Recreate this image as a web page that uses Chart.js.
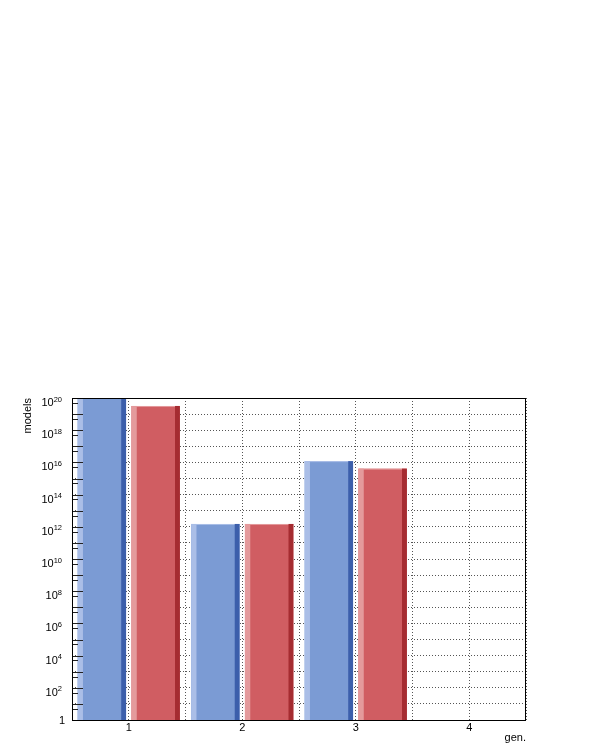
<!DOCTYPE html>
<html>
<head>
<meta charset="utf-8">
<script src="https://cdn.jsdelivr.net/npm/chart.js@4.4.1/dist/chart.umd.min.js"></script>
<style>
html,body{margin:0;padding:0;background:#ffffff;}
#wrap{width:598px;height:747px;}
canvas{display:block;}
</style>
</head>
<body>
<div id="wrap"><canvas id="c" width="598" height="747"></canvas></div>
<script>
// ---- data ----
const categories = ['1', '2', '3', '4'];
const blueValues = [1e20, 1.5e12, 1.2e16, 0];
const redValues  = [3.2e19, 1.5e12, 4.1e15, 0];
const yLabelExponents = [0, 2, 4, 6, 8, 10, 12, 14, 16, 18, 20];
const yDecadeExponents = [0, 1, 2, 3, 4, 5, 6, 7, 8, 9, 10, 11, 12, 13, 14, 15, 16, 17, 18, 19, 20];
const xGridValues = [0.5, 1, 1.5, 2, 2.5, 3, 3.5, 4, 4.5];
const xTitle = 'gen.';
const yTitle = 'models';

// ---- styles ----
const FONT = '"Liberation Sans", Arial, Helvetica, sans-serif';
const blueStyle = { main: '#7b9bd4', light: '#aabee7', dark: '#3c5fab' };
const redStyle  = { main: '#d05d62', light: '#e49a9c', dark: '#a52c31' };

Chart.defaults.font.family = FONT;
Chart.defaults.color = '#000';

const rootStyle = {
  id: 'rootStyle',
  afterDatasetsDraw(chart) {
    const ctx = chart.ctx;
    const area = chart.chartArea;
    chart.data.datasets.forEach((ds, i) => {
      const meta = chart.getDatasetMeta(i);
      meta.data.forEach((bar, j) => {
        const v = ds.data[j];
        if (!(v > 1)) return;
        const p = bar.getProps(['x', 'y', 'base', 'width'], true);
        const l = p.x - p.width / 2;
        const r = p.x + p.width / 2;
        const top = Math.max(p.y, area.top);
        const h = p.base - top;
        ctx.save();
        ctx.beginPath();
        ctx.rect(area.left, area.top, area.right - area.left, area.bottom - area.top);
        ctx.clip();
        ctx.fillStyle = ds.lightColor;
        ctx.fillRect(l, top, p.width * 0.11, h);
        ctx.fillRect(l, top, p.width, 1);
        ctx.fillStyle = ds.darkColor;
        ctx.fillRect(r - p.width * 0.10, top, p.width * 0.10, h);
        ctx.restore();
      });
    });
  },
  afterDraw(chart) {
    const ctx = chart.ctx;
    const a = chart.chartArea;
    const ys = chart.scales.y;
    ctx.save();
    ctx.setLineDash([]);
    // y ticks (inward)
    ctx.strokeStyle = '#222';
    ctx.lineWidth = 1;
    ctx.beginPath();
    yDecadeExponents.forEach(e => {
      const py = Math.round(ys.getPixelForValue(Math.pow(10, e))) + 0.5;
      ctx.moveTo(a.left, py); ctx.lineTo(a.left + 11, py);
      if (e > 0) {
        const ps = Math.round(ys.getPixelForValue(5 * Math.pow(10, e - 1))) + 0.5;
        ctx.moveTo(a.left, ps); ctx.lineTo(a.left + 6, ps);
      }
    });
    ctx.stroke();
    // frame
    ctx.strokeStyle = '#000';
    ctx.strokeRect(Math.round(a.left) + 0.5, Math.round(a.top) + 0.5,
                   Math.round(a.right - a.left) - 1, Math.round(a.bottom - a.top));
    // y labels
    ctx.fillStyle = '#000';
    ctx.textBaseline = 'alphabetic';
    ctx.textAlign = 'right';
    yLabelExponents.forEach(e => {
      const py = ys.getPixelForValue(Math.pow(10, e));
      if (e === 0) {
        ctx.font = '11px ' + FONT;
        ctx.fillText('1', 65, py + 4);
      } else {
        const s = String(e);
        ctx.font = '7.5px ' + FONT;
        const w = ctx.measureText(s).width;
        ctx.fillText(s, 62, py + 3.5);
        ctx.font = '11px ' + FONT;
        ctx.fillText('10', 62 - w, py + 8);
      }
    });
    ctx.restore();
  }
};

new Chart(document.getElementById('c'), {
  type: 'bar',
  data: {
    labels: categories,
    datasets: [
      { data: blueValues, backgroundColor: blueStyle.main, lightColor: blueStyle.light, darkColor: blueStyle.dark,
        borderWidth: 0, categoryPercentage: 0.948, barPercentage: 0.9 },
      { data: redValues, backgroundColor: redStyle.main, lightColor: redStyle.light, darkColor: redStyle.dark,
        borderWidth: 0, categoryPercentage: 0.948, barPercentage: 0.9 }
    ]
  },
  options: {
    responsive: false,
    animation: false,
    devicePixelRatio: 1,
    layout: { padding: { top: 398, right: 72, left: 0, bottom: 0 } },
    plugins: { legend: { display: false }, tooltip: { enabled: false }, title: { display: false } },
    scales: {
      x: {
        type: 'category',
        position: 'bottom',
        grid: { display: false, drawTicks: false },
        border: { display: false },
        ticks: { font: { size: 11 }, color: '#000', padding: 1, maxRotation: 0 },
        title: { display: true, text: xTitle, align: 'end', font: { size: 11 }, color: '#000', padding: { top: 0, bottom: 2 } },
        afterFit(s) { s.height = 27; }
      },
      xg: {
        type: 'linear',
        position: 'bottom',
        offset: false,
        min: 0.5, max: 4.5,
        afterBuildTicks(s) { s.ticks = xGridValues.map(v => ({ value: v })); },
        grid: { display: true, offset: false, drawTicks: false, color: '#555', lineWidth: 1 },
        border: { display: false, dash: [1, 2] },
        ticks: { display: false },
        afterFit(s) { s.height = 0; }
      },
      y: {
        type: 'logarithmic',
        position: 'left',
        min: 1, max: 1e20,
        afterBuildTicks(s) { s.ticks = yDecadeExponents.map(e => ({ value: Math.pow(10, e) })); },
        grid: { display: true, drawTicks: false, color: '#555', lineWidth: 1 },
        border: { display: false, dash: [1, 2] },
        ticks: { display: false },
        title: { display: true, text: yTitle, align: 'end', font: { size: 11 }, color: '#000', padding: { top: 21, bottom: 0 } },
        afterFit(s) { s.width = 72; }
      }
    }
  },
  plugins: [rootStyle]
});
</script>
</body>
</html>
